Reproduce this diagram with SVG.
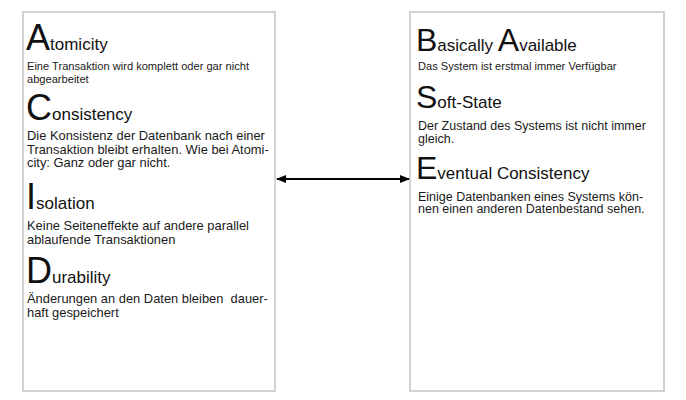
<svg xmlns="http://www.w3.org/2000/svg" width="686" height="400" viewBox="0 0 686 400">
<defs>
<style>
text{font-family:"Liberation Sans",Arial,sans-serif;fill:#111}
.box{fill:#fff;stroke:#c4c4c4;stroke-width:1.5}
.h{font-size:17px}
.bigL{font-size:36px}
.bigR{font-size:32px}
.s{font-size:11.1px;fill:#1a1a1a}
.m{font-size:12.9px;fill:#1a1a1a}
.mr{font-size:12.5px;fill:#1a1a1a}
.con{stroke:#000;stroke-width:2;fill:none}
</style>
<marker id="ah" viewBox="0 0 10 8" refX="9" refY="4" markerWidth="10" markerHeight="8" markerUnits="userSpaceOnUse" orient="auto-start-reverse">
<path d="M0,0 L10,4 L0,8 Z" fill="#000"/>
</marker>
</defs>
<rect width="686" height="400" fill="#fff"/>
<g id="acid">
<rect class="box" x="23" y="12" width="252" height="379"/>
<text x="26" y="50" class="h"><tspan class="bigL">A</tspan>tomicity</text>
<text class="s"><tspan x="27" y="70">Eine Transaktion wird komplett oder gar nicht</tspan><tspan x="27" y="83">abgearbeitet</tspan></text>
<text x="26" y="120" class="h"><tspan class="bigL">C</tspan>onsistency</text>
<text class="m"><tspan x="27" y="140">Die Konsistenz der Datenbank nach einer</tspan><tspan x="27" y="153.5">Transaktion bleibt erhalten. Wie bei Atomi-</tspan><tspan x="27" y="167">city: Ganz oder gar nicht.</tspan></text>
<text x="26" y="209" class="h"><tspan class="bigL">I</tspan>solation</text>
<text class="m"><tspan x="27" y="230">Keine Seiteneffekte auf andere parallel</tspan><tspan x="27" y="243.5">ablaufende Transaktionen</tspan></text>
<text x="26" y="283" class="h"><tspan class="bigL">D</tspan>urability</text>
<text class="m" xml:space="preserve"><tspan x="27" y="303">Änderungen an den Daten bleiben  dauer-</tspan><tspan x="27" y="317">haft gespeichert</tspan></text>
</g>
<g id="base">
<rect class="box" x="410" y="12" width="254" height="379"/>
<text x="416" y="51" class="h"><tspan class="bigR">B</tspan>asically <tspan class="bigR">A</tspan>vailable</text>
<text x="418" y="70" class="s">Das System ist erstmal immer Verfügbar</text>
<text x="416" y="108" class="h"><tspan class="bigR">S</tspan>oft-State</text>
<text class="mr"><tspan x="418" y="130">Der Zustand des Systems ist nicht immer</tspan><tspan x="418" y="143">gleich.</tspan></text>
<text x="416" y="179" class="h"><tspan class="bigR">E</tspan>ventual Consistency</text>
<text class="mr"><tspan x="418" y="200.5">Einige Datenbanken eines Systems kön-</tspan><tspan x="418" y="213">nen einen anderen Datenbestand sehen.</tspan></text>
</g>
<g id="connectors">
<line class="con" x1="277" y1="179" x2="409" y2="179" marker-start="url(#ah)" marker-end="url(#ah)"/>
</g>
</svg>
